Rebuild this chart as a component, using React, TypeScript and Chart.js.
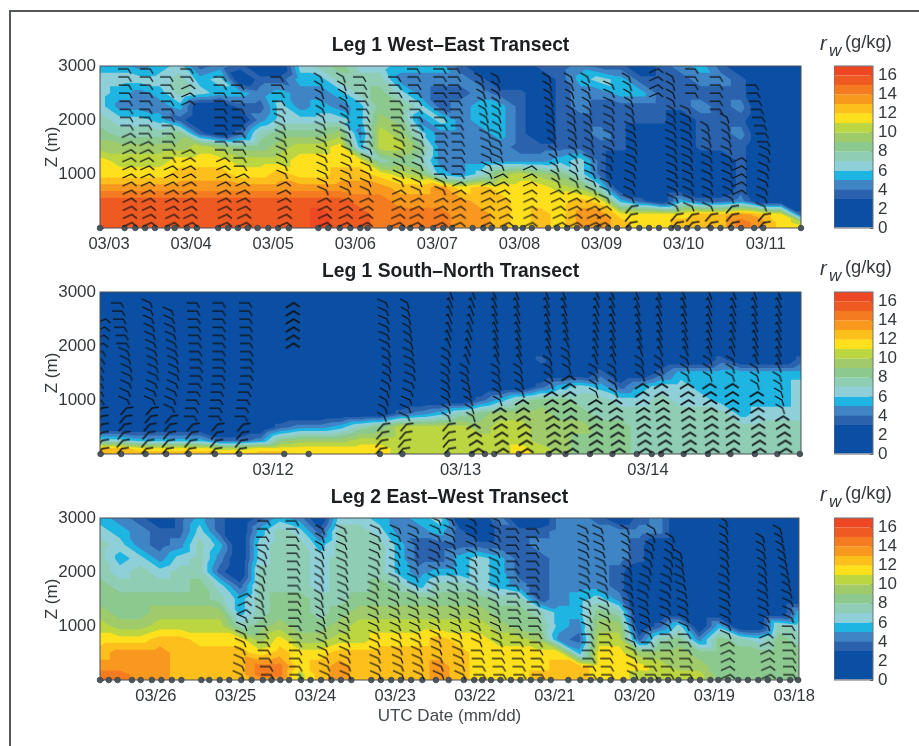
import React, { useEffect, useRef } from "react";
import { Chart, registerables } from "chart.js";

Chart.register(...registerables);

// ---- colour bands (g/kg lower edge of each band, and its colour) ----
const bandEdges = [0, 3, 4, 5, 6, 7, 8, 9, 10, 11, 12, 13, 14, 15, 16];
const bandTop = 17;
const bandColors = ["#0a4fa3", "#2a62ad", "#3f84c4", "#1fb5e3", "#8fd0d8", "#8fcdb5", "#8cc98f", "#a0cb6a", "#bcd641", "#ffe01c", "#fdbf1c", "#f8981f", "#f47b20", "#ef5a23", "#ee4723"];
const colorbarTicks = [0, 2, 4, 6, 8, 10, 12, 14, 16];

// ---- altitudes of the moisture grid, top to bottom (m) ----
const gridAltitudes = [3000, 2750, 2500, 2250, 2000, 1750, 1500, 1250, 1000, 750, 500, 250, 100, 0];
const barbAltitudes = [100, 250, 400, 550, 700, 850, 1000, 1150, 1300, 1450, 1600, 1750, 1900, 2050, 2200, 2350, 2500, 2650, 2800, 2950];

// ---- axis ranges and ticks (day of March) ----
const leg1Range = [2.89, 11.43];
const leg2Range = [11.077, 14.816];
const leg3Range = [26.7, 17.94];
const leg1Ticks = [3, 4, 5, 6, 7, 8, 9, 10, 11];
const leg2Ticks = [12, 13, 14];
const leg3Ticks = [26, 25, 24, 23, 22, 21, 20, 19, 18];

// ---- mixing ratio band per grid column, left to right; each column top to bottom ----
const leg1Moisture = [
  [5,6,6,6,7,8,9,11,11,13,15,15,15,15],
  [5,6,5,4,6,7,9,10,11,13,15,15,15,15],
  [4,6,4,4,6,7,9,10,11,13,15,15,15,15],
  [5,6,5,4,5,7,9,10,11,13,15,15,15,15],
  [6,7,7,5,3,8,9,11,12,13,15,15,15,15],
  [3,5,6,1,1,3,10,11,12,13,15,15,15,15],
  [4,6,5,1,1,1,9,11,12,13,15,15,15,15],
  [3,1,5,3,1,3,8,10,11,13,15,15,15,15],
  [1,3,4,3,4,7,8,10,11,13,15,15,15,15],
  [1,3,5,6,6,8,9,10,12,13,15,15,15,15],
  [6,5,4,4,6,8,10,11,11,13,15,15,15,15],
  [7,5,4,5,6,8,10,11,11,13,15,16,16,16],
  [8,7,5,4,6,9,11,11,12,13,15,15,15,15],
  [6,7,7,5,5,4,5,11,12,13,14,15,15,15],
  [6,7,8,8,9,10,10,7,11,13,14,14,14,14],
  [5,4,6,8,8,9,10,8,10,12,13,14,14,14],
  [5,4,4,6,4,6,8,7,9,12,13,14,14,14],
  [5,4,3,3,6,4,4,4,5,13,13,14,14,14],
  [3,4,3,4,4,4,4,4,4,11,13,13,13,13],
  [1,3,4,5,5,4,4,4,6,12,12,13,13,13],
  [1,1,3,5,5,5,4,4,9,11,12,12,12,12],
  [1,1,3,3,3,3,3,4,10,11,11,11,11,11],
  [3,1,1,1,1,1,3,4,9,11,11,12,12,12],
  [3,3,3,3,3,3,3,5,8,10,11,11,11,11],
  [4,5,4,4,3,3,3,6,6,9,12,13,13,13],
  [3,6,4,3,3,4,3,3,3,6,11,13,13,13],
  [3,5,5,3,3,3,3,1,1,1,5,11,12,12],
  [1,3,5,3,3,1,1,1,1,1,3,11,11,11],
  [3,3,3,3,3,1,1,1,1,1,1,11,11,11],
  [4,3,3,3,1,1,1,1,1,1,5,11,12,12],
  [5,4,3,4,3,3,3,1,1,1,3,12,12,12],
  [3,4,3,3,3,3,3,1,1,1,3,12,12,12],
  [1,3,3,4,3,4,3,3,3,3,4,13,14,14],
  [1,1,1,1,1,1,1,1,1,1,1,12,13,13],
  [1,1,1,1,1,1,1,1,1,1,1,11,11,11],
  [1,1,1,1,1,1,1,1,1,1,1,3,10,11],
];
const leg2Moisture = [
  [1,1,1,1,1,1,1,1,1,1,1,6,12,13],
  [1,1,1,1,1,1,1,1,1,1,1,6,12,12],
  [1,1,1,1,1,1,1,1,1,1,1,5,11,12],
  [1,1,1,1,1,1,1,1,1,1,1,5,11,12],
  [1,1,1,1,1,1,1,1,1,1,1,5,11,12],
  [1,1,1,1,1,1,1,1,1,1,1,5,11,12],
  [1,1,1,1,1,1,1,1,1,1,1,3,10,12],
  [1,1,1,1,1,1,1,1,1,1,1,3,10,12],
  [1,1,1,1,1,1,1,1,1,1,1,4,11,12],
  [1,1,1,1,1,1,1,1,1,1,3,8,11,12],
  [1,1,1,1,1,1,1,1,1,1,4,9,11,11],
  [1,1,1,1,1,1,1,1,1,1,4,9,11,11],
  [1,1,1,1,1,1,1,1,1,1,5,9,11,11],
  [1,1,1,1,1,1,1,1,1,1,7,10,11,11],
  [1,1,1,1,1,1,1,1,1,1,8,10,11,11],
  [1,1,1,1,1,1,1,1,1,3,10,10,10,10],
  [1,1,1,1,1,1,1,1,1,4,10,10,10,10],
  [1,1,1,1,1,1,1,1,1,5,10,10,10,10],
  [1,1,1,1,1,1,1,1,1,7,10,10,10,10],
  [1,1,1,1,1,1,1,1,3,8,9,10,10,10],
  [1,1,1,1,1,1,1,1,5,9,10,10,10,10],
  [1,1,1,1,1,1,1,1,7,9,10,10,11,11],
  [1,1,1,1,1,3,1,3,8,9,9,9,10,10],
  [1,1,1,1,1,1,1,5,8,8,9,9,9,9],
  [1,1,1,1,1,1,1,6,7,8,9,8,8,8],
  [1,1,1,1,1,1,3,5,7,7,8,8,8,8],
  [1,1,1,1,1,1,1,3,6,7,8,8,8,8],
  [1,1,1,1,1,1,1,5,6,7,7,7,7,7],
  [1,1,1,1,1,1,3,6,7,7,7,7,7,7],
  [1,1,1,1,1,1,5,6,6,7,7,7,7,7],
  [1,1,1,1,1,1,5,5,6,7,7,7,7,7],
  [1,1,1,1,1,3,5,5,5,7,7,7,7,7],
  [1,1,1,1,1,1,5,5,5,5,7,7,7,7],
  [1,1,1,1,1,1,5,5,5,6,7,7,7,7],
  [1,1,1,1,1,1,5,5,5,6,7,7,7,7],
  [1,1,1,1,1,3,5,6,6,6,7,7,7,7],
];
const leg3Moisture = [
  [5,6,7,7,7,8,8,9,10,11,12,13,14,15],
  [4,5,6,5,6,7,8,8,9,11,13,13,14,14],
  [3,4,4,6,7,7,8,8,9,11,13,13,13,13],
  [1,3,3,4,6,7,8,9,10,12,13,13,13,13],
  [3,3,4,6,7,7,8,9,10,12,12,12,12,12],
  [5,6,7,7,7,8,8,9,10,11,12,12,12,12],
  [3,3,5,4,3,6,7,9,10,11,12,12,12,12],
  [1,1,1,1,1,3,5,5,7,11,12,12,12,12],
  [3,5,6,6,7,7,7,7,8,9,11,14,14,13],
  [5,7,7,7,7,7,8,8,9,11,12,14,14,13],
  [4,6,7,7,7,7,8,8,8,9,11,11,10,10],
  [1,3,5,6,6,6,7,7,8,9,11,12,12,12],
  [6,7,7,7,7,7,7,8,9,10,12,13,13,13],
  [6,7,7,7,7,7,8,9,10,10,12,12,12,12],
  [5,6,7,7,7,8,8,9,10,11,12,12,12,12],
  [4,4,5,5,5,7,8,9,10,11,12,12,12,12],
  [5,4,3,3,4,5,8,9,10,11,12,12,12,12],
  [6,5,3,3,5,7,8,9,10,12,12,13,13,13],
  [1,3,3,5,5,7,8,9,10,11,12,12,12,12],
  [1,1,3,6,6,6,8,9,10,11,11,11,11,11],
  [4,3,3,5,5,5,7,8,9,10,11,11,11,11],
  [1,3,3,3,3,4,7,8,8,10,11,11,11,11],
  [1,3,4,3,3,3,3,7,8,9,11,11,12,12],
  [4,4,4,4,4,4,4,5,5,4,11,12,12,12],
  [4,4,4,4,4,4,5,5,4,3,5,12,12,12],
  [3,4,4,4,4,4,6,8,9,10,11,11,11,11],
  [1,4,4,4,3,3,4,7,9,10,11,11,11,11],
  [3,4,3,3,1,1,1,1,1,3,9,11,10,10],
  [4,4,1,1,1,1,1,1,3,7,9,10,10,10],
  [1,1,1,1,1,1,1,1,6,8,9,9,10,10],
  [1,1,1,1,1,1,1,1,1,4,8,9,10,10],
  [1,1,1,1,1,1,1,1,5,8,8,8,8,8],
  [1,1,1,1,1,1,1,1,1,7,8,8,8,8],
  [1,1,1,1,1,1,1,1,1,6,8,8,8,8],
  [1,1,1,1,1,1,1,1,7,8,8,8,8,8],
  [1,1,1,1,1,1,1,5,6,7,8,8,8,8],
];

// ---- dropsonde launches on the ground line (day of March) ----
const leg1Stations = [2.89,3.19,3.32,3.44,3.56,3.71,3.8,3.95,4.07,4.33,4.45,4.57,4.69,4.81,4.94,5.06,5.19,5.55,5.67,5.81,5.94,6.06,6.15,6.42,6.57,6.67,6.81,6.95,7.07,7.18,7.43,7.56,7.66,7.82,7.95,8.04,8.15,8.35,8.46,8.58,8.7,8.82,8.94,9.08,9.19,9.33,9.46,9.58,9.7,9.85,9.93,10.04,10.17,10.33,10.45,10.58,10.7,10.86,10.97,11.43];
const leg2Stations = [11.08,11.19,11.32,11.43,11.55,11.69,11.82,12.06,12.19,12.57,12.69,12.93,13.06,13.13,13.18,13.31,13.47,13.56,13.69,13.81,13.94,14.02,14.07,14.19,14.32,14.44,14.57,14.69,14.81];
const leg3Stations = [26.7,26.59,26.48,26.3,26.19,26.05,25.93,25.8,25.68,25.43,25.33,25.2,25.08,24.93,24.8,24.66,24.55,24.44,24.33,24.18,24.06,23.93,23.8,23.68,23.55,23.3,23.18,23.05,22.93,22.8,22.66,22.49,22.33,22.14,22.01,21.91,21.8,21.68,21.55,21.43,21.3,21.18,21.05,20.83,20.68,20.55,20.43,20.3,20.14,20.01,19.89,19.8,19.7,19.58,19.45,19.3,19.18,19.05,18.95,18.83,18.7,18.58,18.45,18.33,18.18,18.05,17.95];

// ---- wind profiles: [date at ground, at 1500 m, at 3000 m, lowest z, highest z, low kind, z, mid kind, z, high kind] ----
type Sonde = [number, number, number, number, number, string, number, string, number, string];
const leg1Sondes: Sonde[] = [
  [3.28,3.27,3.23,100,2950,"c",1900,"f",2500,"f"],
  [3.52,3.48,3.5,100,2950,"c",1700,"f",2500,"f"],
  [3.8,3.77,3.74,100,2800,"c",1200,"f",2500,"f"],
  [4.02,3.99,3.99,100,1550,"c",1500,"c",2000,"c"],
  [3.99,3.99,3.99,2350,2950,"c",2500,"c",2800,"f"],
  [4.44,4.41,4.39,100,2900,"c",1400,"f",2500,"f"],
  [4.68,4.63,4.6,100,2700,"c",1100,"f",2500,"f"],
  [5.17,5.14,5.08,100,2900,"c",1000,"r",2100,"f"],
  [5.66,5.63,5.57,100,2800,"c",700,"r",2000,"s"],
  [5.9,5.94,5.84,100,2800,"c",700,"r",2000,"s"],
  [6.15,6.18,6.08,100,2850,"c",700,"r",1600,"f"],
  [6.54,6.58,6.51,100,2850,"c",800,"r",1800,"f"],
  [6.76,6.81,6.75,100,2950,"c",700,"r",1800,"f"],
  [7.06,7.09,7.07,100,2950,"c",700,"r",1000,"f"],
  [7.28,7.3,7.24,100,2950,"c",900,"f",2000,"f"],
  [7.64,7.64,7.52,100,2800,"c",1000,"r",1800,"s"],
  [7.88,7.76,7.73,100,2800,"c",1100,"r",1800,"s"],
  [8.16,8.15,8.15,100,1200,"c",1200,"c",2000,"c"],
  [8.53,8.43,8.35,100,2800,"c",800,"s",2000,"s"],
  [8.71,8.68,8.62,100,2800,"c",800,"s",2000,"s"],
  [8.94,8.88,8.82,100,2850,"c",600,"r",1500,"s"],
  [9.04,9.13,9.13,100,2700,"c",500,"r",2000,"r"],
  [9.35,9.41,9.32,100,2800,"p",500,"r",2000,"s"],
  [9.69,9.69,9.69,2400,2950,"c",2500,"c",2800,"c"],
  [9.92,9.89,9.86,100,2800,"p",400,"r",2000,"s"],
  [10.11,10.08,10.04,100,2300,"p",400,"r",2000,"r"],
  [10.34,10.32,10.2,100,2000,"p",400,"r",1500,"s"],
  [10.14,10.14,10.14,2400,2950,"f",2500,"f",2800,"f"],
  [10.44,10.44,10.44,2100,2900,"f",2500,"f",2800,"f"],
  [10.6,10.56,10.47,100,2100,"p",500,"r",1500,"s"],
  [10.71,10.71,10.71,700,1300,"c",1000,"c",1200,"c"],
  [10.97,11.03,10.83,100,2750,"p",300,"r",1500,"f"],
];
const leg2Sondes: Sonde[] = [
  [11.09,11.08,11.12,100,2500,"p",1000,"f",2000,"c"],
  [11.19,11.24,11.18,100,2800,"p",1000,"r",2000,"f"],
  [11.32,11.38,11.34,100,2800,"p",900,"r",2000,"r"],
  [11.43,11.49,11.45,100,2650,"p",800,"r",2000,"r"],
  [11.55,11.61,11.59,100,2800,"p",600,"f",2000,"f"],
  [11.69,11.73,11.73,100,2800,"p",600,"f",2000,"f"],
  [11.82,11.88,11.87,100,2800,"p",600,"f",2000,"f"],
  [12.11,12.11,12.11,2050,2850,"C",2500,"C",2700,"C"],
  [12.57,12.62,12.6,100,2850,"p",600,"s",2000,"r"],
  [12.69,12.75,12.71,100,2800,"p",600,"r",2000,"s"],
  [12.94,12.93,12.95,100,2950,"p",600,"s",2000,"v"],
  [13.1,13.03,13.07,100,2950,"C",700,"s",1700,"v"],
  [13.23,13.2,13.18,100,2950,"C",1000,"s",1700,"v"],
  [13.36,13.32,13.3,100,2950,"C",1100,"s",1700,"v"],
  [13.51,13.48,13.46,100,2950,"C",1300,"s",1800,"v"],
  [13.6,13.58,13.55,100,2950,"C",1500,"s",2000,"v"],
  [13.73,13.72,13.73,100,2950,"C",1100,"s",1700,"v"],
  [13.85,13.82,13.81,100,2950,"C",1100,"s",1700,"v"],
  [13.99,13.97,13.94,100,2950,"C",1400,"s",1800,"v"],
  [14.1,14.07,14.06,100,2950,"C",1400,"s",1800,"v"],
  [14.23,14.21,14.19,100,2950,"C",1400,"s",1800,"v"],
  [14.35,14.33,14.33,100,2950,"C",1400,"s",1800,"v"],
  [14.46,14.45,14.46,100,2950,"C",1400,"s",1800,"v"],
  [14.6,14.58,14.57,100,2950,"C",1200,"s",1700,"v"],
  [14.74,14.7,14.7,100,2950,"C",800,"s",1600,"v"],
];
const leg3Sondes: Sonde[] = [
  [24.93,24.86,24.85,100,1650,"r",1000,"r",1300,"c"],
  [24.55,24.68,24.6,100,2950,"f",1300,"s",2400,"f"],
  [24.2,24.22,24.25,100,2950,"f",1000,"f",2000,"f"],
  [23.83,23.93,23.91,100,2850,"r",1000,"s",2000,"s"],
  [23.58,23.61,23.64,100,2850,"r",1500,"r",2500,"r"],
  [23.2,23.24,23.2,100,2850,"r",1500,"r",2500,"r"],
  [22.91,22.98,22.95,100,2850,"r",1500,"r",2500,"r"],
  [22.66,22.74,22.73,100,2850,"r",1500,"r",2500,"r"],
  [22.41,22.49,22.45,100,2950,"r",1500,"r",2500,"r"],
  [22.14,22.23,22.29,100,2950,"r",1500,"r",2500,"r"],
  [21.89,21.99,22.01,100,2950,"f",700,"r",2500,"r"],
  [21.64,21.73,21.7,100,2950,"f",700,"r",2500,"r"],
  [21.39,21.48,21.49,100,2850,"f",1000,"f",2500,"f"],
  [21.16,21.23,21.24,100,2850,"f",1000,"f",2500,"f"],
  [20.51,20.58,20.61,100,2850,"f",1000,"r",1400,"r"],
  [20.29,20.35,20.43,100,2800,"f",900,"r",2500,"r"],
  [19.98,20.04,20.1,100,2800,"r",1000,"r",2000,"s"],
  [19.74,19.86,19.74,100,2900,"f",800,"r",2000,"s"],
  [19.54,19.58,19.51,100,2700,"f",1000,"r",2000,"s"],
  [19.3,19.36,19.48,100,2400,"f",1000,"r",2000,"s"],
  [18.8,18.83,18.86,100,2950,"c",800,"r",2000,"s"],
  [18.29,18.35,18.41,100,2700,"c",1000,"r",1700,"s"],
  [18.01,18.04,18.2,100,2850,"f",1100,"r",1700,"s"],
];

// ---- the strokes of each kind of wind barb, relative to the barb's point ----
const barbKinds: Record<string, { path: number[][]; width: number }> = {
  c: { path: [[-9, 4], [0, 0], [5, 4]], width: 1.25 },
  C: { path: [[-8, 5], [0, 0], [6, 4]], width: 1.8 },
  f: { path: [[-10, 0], [0, 0], [3, 5]], width: 1.25 },
  r: { path: [[-9, -4], [0, 0], [2, 5]], width: 1.25 },
  s: { path: [[-7, -4], [0, 0], [2, 6]], width: 1.25 },
  v: { path: [[-4, -3], [-2, -5], [2, 5]], width: 1.25 },
  p: { path: [[-6, 7], [0, 0], [7, -1]], width: 1.5 },
};

const altitudeOf = (k: number) => gridAltitudes[k];

function makeBarbImages() {
  const images: Record<string, HTMLCanvasElement> = {};
  for (const key of Object.keys(barbKinds)) {
    const canvas = document.createElement("canvas");
    canvas.width = 30;
    canvas.height = 30;
    const ctx = canvas.getContext("2d")!;
    ctx.strokeStyle = "#111417";
    ctx.lineWidth = barbKinds[key].width;
    ctx.translate(15, 15);
    ctx.beginPath();
    barbKinds[key].path.forEach(([x, y], i) => (i ? ctx.lineTo(x, y) : ctx.moveTo(x, y)));
    ctx.stroke();
    images[key] = canvas;
  }
  return images;
}

function sondePoints(sondes: Sonde[]) {
  const out: { x: number; y: number; kind: string }[] = [];
  for (const [x0, x1, x2, zLow, zHigh, k1, z1, k2, z2, k3] of sondes) {
    for (const z of barbAltitudes) {
      if (z < zLow || z > zHigh) continue;
      const x = z <= 1500 ? x0 + ((x1 - x0) * z) / 1500 : x1 + ((x2 - x1) * (z - 1500)) / 1500;
      out.push({ x, y: z, kind: z < z1 ? k1 : z < z2 ? k2 : k3 });
    }
  }
  return out;
}

function gridPoints(columns: number[][], range: number[]) {
  const out: { x: number; y: number; v: number }[] = [];
  columns.forEach((col, i) => {
    const x = range[0] + ((range[1] - range[0]) * i) / (columns.length - 1);
    col.forEach((band, k) => out.push({ x, y: altitudeOf(k), v: band + 0.5 }));
  });
  return out;
}

// Filled contours of the grid dataset, drawn through the chart's scales.
const contourPlugin = {
  id: "contourFill",
  beforeDatasetsDraw(chart: any) {
    const grid = chart.data.datasets[0].data as { x: number; y: number; v: number }[];
    const rows = gridAltitudes.length;
    const cols = grid.length / rows;
    const { x: sx, y: sy } = chart.scales;
    const { ctx, chartArea: a } = chart;
    const at = (i: number, k: number) => {
      const p = grid[i * rows + k];
      return { px: sx.getPixelForValue(p.x), py: sy.getPixelForValue(p.y), v: p.v };
    };
    ctx.save();
    ctx.beginPath();
    ctx.rect(a.left, a.top, a.right - a.left, a.bottom - a.top);
    ctx.clip();
    bandEdges.forEach((edge, b) => {
      ctx.fillStyle = bandColors[b];
      ctx.beginPath();
      if (b === 0) {
        ctx.rect(a.left, a.top, a.right - a.left, a.bottom - a.top);
      } else {
        for (let i = 0; i < cols - 1; i++) {
          for (let k = 0; k < rows - 1; k++) {
            const q = [at(i, k), at(i + 1, k), at(i + 1, k + 1), at(i, k + 1)];
            for (const tri of [[q[0], q[1], q[2]], [q[0], q[2], q[3]]]) {
              const poly: number[][] = [];
              tri.forEach((p, n) => {
                const r = tri[(n + 1) % 3];
                if (p.v >= edge) poly.push([p.px, p.py]);
                if ((p.v >= edge) !== (r.v >= edge)) {
                  const t = (edge - p.v) / (r.v - p.v);
                  poly.push([p.px + (r.px - p.px) * t, p.py + (r.py - p.py) * t]);
                }
              });
              poly.forEach(([x, y], n) => (n ? ctx.lineTo(x, y) : ctx.moveTo(x, y)));
              if (poly.length) ctx.closePath();
            }
          }
        }
      }
      ctx.fill();
    });
    ctx.restore();
  },
  afterDraw(chart: any) {
    const { ctx, chartArea: a } = chart;
    ctx.save();
    ctx.strokeStyle = "#4a4f55";
    ctx.lineWidth = 1;
    ctx.strokeRect(a.left, a.top, a.right - a.left, a.bottom - a.top);
    ctx.restore();
  },
};

const framePlugin = {
  id: "barFrame",
  afterDraw(chart: any) {
    const { ctx, chartArea: a } = chart;
    ctx.save();
    ctx.strokeStyle = "#6a6f75";
    ctx.lineWidth = 1;
    ctx.strokeRect(a.left, a.top, a.right - a.left, a.bottom - a.top);
    ctx.restore();
  },
};

const textColor = "#33383c";
const sans = "'Liberation Sans', Arial, sans-serif";

type Panel = {
  title: string;
  top: number;
  height: number;
  axisHeight: number;
  range: number[];
  ticks: number[];
  moisture: number[][];
  stations: number[];
  sondes: Sonde[];
  xTitle?: string;
};

const panels: Panel[] = [
  { title: "Leg 1 West\u2013East Transect", top: 30, height: 230, axisHeight: 32, range: leg1Range, ticks: leg1Ticks, moisture: leg1Moisture, stations: leg1Stations, sondes: leg1Sondes },
  { title: "Leg 1 South\u2013North Transect", top: 256, height: 230, axisHeight: 32, range: leg2Range, ticks: leg2Ticks, moisture: leg2Moisture, stations: leg2Stations, sondes: leg2Sondes },
  { title: "Leg 2 East\u2013West Transect", top: 482, height: 247, axisHeight: 49, range: leg3Range, ticks: leg3Ticks, moisture: leg3Moisture, stations: leg3Stations, sondes: leg3Sondes, xTitle: "UTC Date (mm/dd)" },
];

function PanelChart({ panel }: { panel: Panel }) {
  const ref = useRef<HTMLCanvasElement>(null);
  useEffect(() => {
    const images = makeBarbImages();
    const reverse = panel.range[0] > panel.range[1];
    const chart = new Chart(ref.current!, {
      type: "scatter",
      plugins: [contourPlugin],
      data: {
        datasets: [
          { label: "rw", data: gridPoints(panel.moisture, panel.range), pointRadius: 0, showLine: false } as any,
          {
            label: "wind",
            data: sondePoints(panel.sondes),
            pointRadius: 1,
            pointStyle: (c: any) => images[c.raw?.kind ?? "c"],
            showLine: false,
          } as any,
          {
            label: "launch",
            data: panel.stations.map((x) => ({ x, y: 0 })),
            pointRadius: 2.8,
            pointBackgroundColor: "#4c5a60",
            pointBorderColor: "#3a4044",
            pointBorderWidth: 0.8,
            clip: false,
            showLine: false,
          } as any,
        ],
      },
      options: {
        animation: false,
        responsive: false,
        events: [],
        layout: { padding: { right: 25 } },
        plugins: {
          legend: { display: false },
          tooltip: { enabled: false },
          title: {
            display: true,
            text: panel.title,
            fullSize: false,
            color: "#1c1f22",
            font: { family: sans, size: 19.3, weight: "bold", lineHeight: 1.2 },
            padding: { top: 4, bottom: 8.84 },
          },
        },
        scales: {
          x: {
            type: "linear",
            reverse,
            min: Math.min(panel.range[0], panel.range[1]),
            max: Math.max(panel.range[0], panel.range[1]),
            afterBuildTicks: (s: any) => {
              s.ticks = panel.ticks.map((value) => ({ value }));
            },
            afterFit: (s: any) => {
              s.height = panel.axisHeight;
            },
            ticks: {
              autoSkip: false,
              maxRotation: 0,
              padding: 11,
              color: textColor,
              font: { family: sans, size: 16.5 },
              callback: (v: any) => `03/${String(v).padStart(2, "0")}`,
            },
            grid: { drawOnChartArea: false, tickLength: -4, color: "#4a4f55" },
            border: { display: false },
            title: panel.xTitle
              ? { display: true, text: panel.xTitle, color: "#44494d", font: { family: sans, size: 17 }, padding: { top: 0, bottom: 2 } }
              : { display: false },
          },
          y: {
            type: "linear",
            min: 0,
            max: 3000,
            afterFit: (s: any) => {
              s.width = 60;
            },
            ticks: {
              stepSize: 1000,
              padding: 8,
              color: textColor,
              font: { family: sans, size: 17 },
              callback: (v: any) => (v === 0 ? "" : String(v)),
            },
            grid: { drawOnChartArea: false, tickLength: -4, color: "#4a4f55" },
            border: { display: false },
            title: { display: true, text: "Z (m)", color: textColor, font: { family: sans, size: 17 }, padding: { top: 2, bottom: 0 } },
          },
        },
      } as any,
    });
    return () => chart.destroy();
  }, [panel]);
  return <canvas ref={ref} width={786} height={panel.height} style={{ position: "absolute", left: 40, top: panel.top, width: 786, height: panel.height }} />;
}

function ColorBar({ top }: { top: number }) {
  const ref = useRef<HTMLCanvasElement>(null);
  useEffect(() => {
    const chart = new Chart(ref.current!, {
      type: "bar",
      plugins: [framePlugin],
      data: {
        labels: ["rw"],
        datasets: bandEdges.map((edge, i) => ({
          label: String(edge),
          data: [[edge, i + 1 < bandEdges.length ? bandEdges[i + 1] : bandTop]],
          backgroundColor: bandColors[i],
          borderColor: bandColors[i],
          borderWidth: 0.5,
          barPercentage: 1,
          categoryPercentage: 1,
          grouped: false,
        })) as any,
      },
      options: {
        animation: false,
        responsive: false,
        events: [],
        layout: { padding: { top: 10, bottom: 10 } },
        plugins: { legend: { display: false }, tooltip: { enabled: false } },
        scales: {
          x: { display: false, stacked: false },
          y: {
            position: "right",
            min: 0,
            max: bandTop,
            afterBuildTicks: (s: any) => {
              s.ticks = colorbarTicks.map((value) => ({ value }));
            },
            afterFit: (s: any) => {
              s.width = 30;
              s.paddingTop = 0;
              s.paddingBottom = 0;
            },
            ticks: { autoSkip: false, padding: 8, color: textColor, font: { family: sans, size: 17 } },
            grid: { drawOnChartArea: false, tickLength: -3, color: "#555" },
            border: { display: false },
          },
        },
      } as any,
    });
    return () => chart.destroy();
  }, []);
  return <canvas ref={ref} width={69} height={182} style={{ position: "absolute", left: 834, top: top - 10, width: 69, height: 182 }} />;
}

function UnitLabel({ top }: { top: number }) {
  const base: React.CSSProperties = { position: "absolute", fontFamily: sans, color: textColor, lineHeight: 1, whiteSpace: "nowrap" };
  return (
    <>
      <span style={{ ...base, left: 820, top, fontSize: 20, fontStyle: "italic" }}>r</span>
      <span style={{ ...base, left: 829, top: top + 9, fontSize: 17, fontStyle: "italic" }}>w</span>
      <span style={{ ...base, left: 845, top: top, fontSize: 18.3 }}>(g/kg)</span>
    </>
  );
}

export default function App() {
  return (
    <div style={{ position: "fixed", left: 0, top: 0, width: 919, height: 746, background: "#fff", overflow: "hidden", filter: "blur(0.45px)" }}>
      <div style={{ position: "absolute", left: 9, top: 10, width: 920, height: 760, borderLeft: "2px solid #55595d", borderTop: "2px solid #55595d" }} />
      {panels.map((p) => (
        <PanelChart key={p.title} panel={p} />
      ))}
      {[66, 292, 518].map((t) => (
        <ColorBar key={t} top={t} />
      ))}
      {[33, 258, 484].map((t) => (
        <UnitLabel key={t} top={t} />
      ))}
    </div>
  );
}
